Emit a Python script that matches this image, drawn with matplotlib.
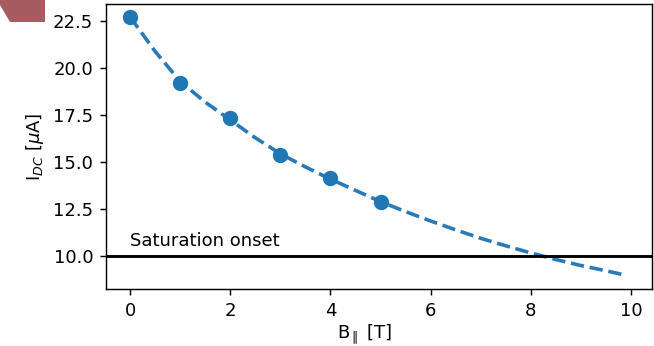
# --------------------------------------------------------------
# IMPORT LIBRARIES
# --------------------------------------------------------------
import matplotlib
matplotlib.use("Agg")
import matplotlib.pyplot as plt
from matplotlib.patches import Polygon

# --------------------------------------------------------------
# DATA
# --------------------------------------------------------------
field_meas = [0, 1, 2, 3, 4, 5]                              # B_parallel [T]
current_meas = [22.73, 19.21, 17.33, 15.36, 14.16, 12.88]    # I_DC [uA]

field_fit = [0, 0.5, 1, 1.5, 2, 2.5, 3, 3.5, 4, 4.5, 5,
             5.5, 6, 6.5, 7, 7.5, 8, 8.5, 9, 9.5, 9.9]
current_fit = [22.73, 20.9, 19.3, 18.2, 17.25, 16.3, 15.45, 14.75, 14.1, 13.5, 12.9,
               12.37, 11.87, 11.4, 10.95, 10.55, 10.17, 9.82, 9.5, 9.22, 8.98]

saturation_level = 10.0
saturation_label = "Saturation onset"

# --------------------------------------------------------------
# PLOTTING
# --------------------------------------------------------------
DPI = 130
fig = plt.figure(figsize=(654 / DPI, 346 / DPI), dpi=DPI)
ax = fig.add_axes([106 / 654, 57 / 346, 546 / 654, 285 / 346])

# corner decoration seen in the screenshot
corner = Polygon([[0, 1], [0, 1 - 5 / 346], [10 / 654, 1 - 22 / 346],
                  [45 / 654, 1 - 22 / 346], [45 / 654, 1]],
                 closed=True, transform=fig.transFigure,
                 facecolor="#a65c5e", edgecolor="none", zorder=0)
fig.patches.append(corner)

ax.plot(field_fit, current_fit, linestyle="--", color="#2a7ab8", linewidth=2)
ax.plot(field_meas, current_meas, "o", color="C0", markersize=7.5)

ax.axhline(saturation_level, color="black", linewidth=1.6)
ax.text(0, saturation_level + 0.3, saturation_label, fontsize=10, va="bottom")

ax.set_xlabel(r"B$_{\parallel}$ [T]")
ax.set_ylabel(r"I$_{DC}$ [$\mu$A]")
ax.xaxis.set_label_coords(0.473, -0.118)

ax.set_xlim(-0.48, 10.42)
ax.set_ylim(8.25, 23.42)
ax.set_xticks([0, 2, 4, 6, 8, 10])
ax.set_yticks([10.0, 12.5, 15.0, 17.5, 20.0, 22.5])

fig.savefig("out.png", dpi=DPI)
